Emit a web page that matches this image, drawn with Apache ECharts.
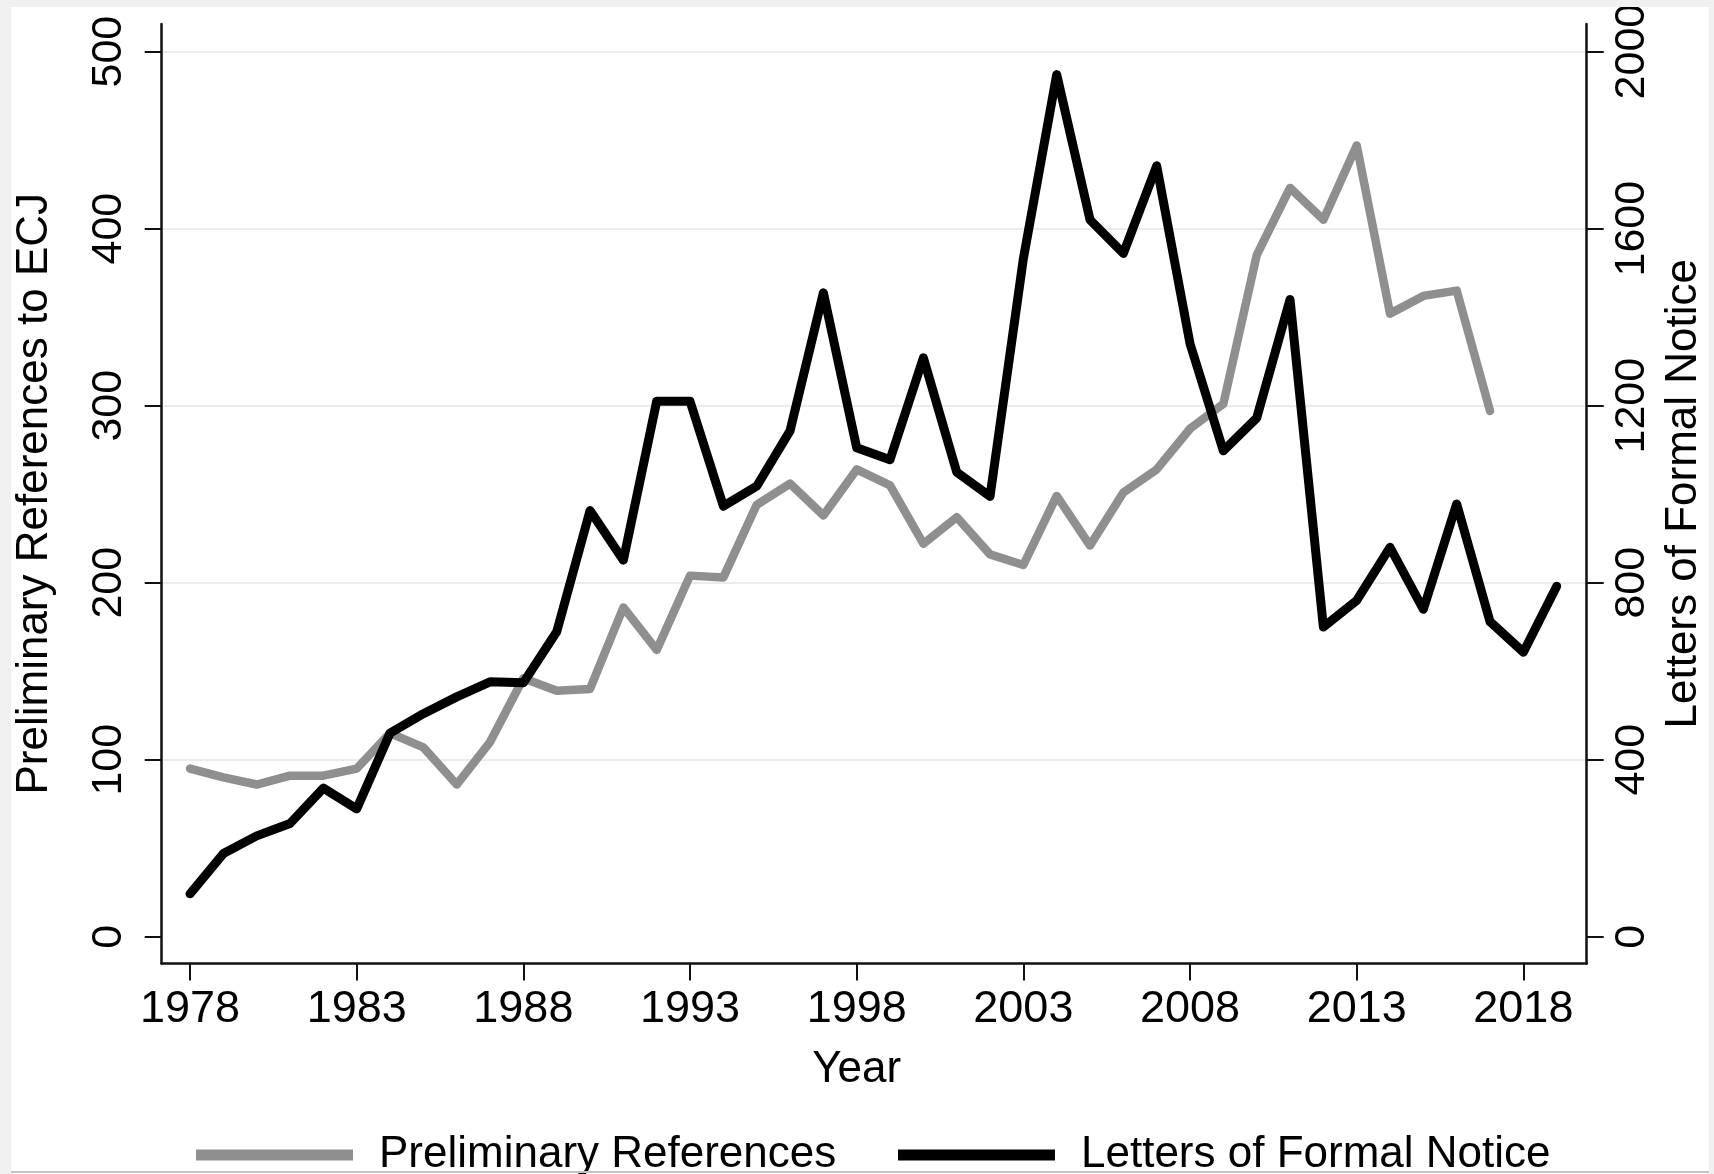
<!DOCTYPE html>
<html>
<head>
<meta charset="utf-8">
<script src="https://cdn.jsdelivr.net/npm/echarts@6/dist/echarts.min.js"></script>
<style>
  html, body { margin: 0; padding: 0; background: #ffffff; }
  #wrap { position: relative; width: 1714px; height: 1174px; background: #ffffff; overflow: hidden; }
  #chart { position: absolute; left: 0; top: 0; width: 1714px; height: 1174px; }
  .band { position: absolute; background: #f0f0f0; z-index: 10; pointer-events: none; }
</style>
</head>
<body>
<div id="wrap">
  <div id="chart"></div>
  <div class="band" style="left:0;top:0;width:1714px;height:7px;"></div>
  <div class="band" style="left:0;top:0;width:11px;height:1174px;"></div>
  <div class="band" style="left:1709px;top:0;width:5px;height:1174px;"></div>
  <div class="band" style="left:11px;top:1171px;width:1698px;height:2px;background:#c4c4c4;"></div>
</div>
<script>
// ---- data ----
const years = [1978,1979,1980,1981,1982,1983,1984,1985,1986,1987,
               1988,1989,1990,1991,1992,1993,1994,1995,1996,1997,
               1998,1999,2000,2001,2002,2003,2004,2005,2006,2007,
               2008,2009,2010,2011,2012,2013,2014,2015,2016,2017,
               2018,2019];

// Preliminary references to ECJ (left axis), 1978-2017
const preliminaryReferences = [95, 90, 86, 91, 91, 95, 115, 107, 86, 110,
                               146, 139, 140, 186, 162, 204, 203, 244, 256, 238,
                               264, 255, 222, 237, 216, 210, 249, 221, 251, 264,
                               287, 301, 385, 423, 405, 447, 352, 362, 365, 297];

// Letters of formal notice (right axis), 1978-2019
const lettersOfFormalNotice = [97, 188, 228, 256, 336, 289, 460, 504, 542, 576,
                               574, 689, 963, 851, 1210, 1210, 973, 1018, 1143, 1455,
                               1105, 1078, 1308, 1050, 995, 1532, 1948, 1620, 1544, 1742,
                               1340, 1098, 1172, 1440, 700, 760, 880, 740, 978, 712,
                               643, 792];

const xTicks = [1978, 1983, 1988, 1993, 1998, 2003, 2008, 2013, 2018];
const leftTicks = [0, 100, 200, 300, 400, 500];
const rightTicks = [0, 400, 800, 1200, 1600, 2000];

const seriesNames = ['Preliminary References', 'Letters of Formal Notice'];
const axisTitles = { x: 'Year', left: 'Preliminary References to ECJ', right: 'Letters of Formal Notice' };

// ---- build ----
const FONT = "'Liberation Sans', Arial, Helvetica, sans-serif";
const GRAY = '#8f8f8f';
const BLACK = '#000000';
const AXIS = '#111111';
const GRID = '#e6eef0';

const prData = preliminaryReferences.map((v, i) => [years[i], v]);
const lfnData = lettersOfFormalNotice.map((v, i) => [years[i], v]);

const plain = v => String(v);

const chart = echarts.init(document.getElementById('chart'), null, { renderer: 'canvas' });

chart.setOption({
  animation: false,
  backgroundColor: '#ffffff',
  textStyle: { fontFamily: FONT },
  grid: { left: 161.7, right: 127.3, top: 24, bottom: 210.5, containLabel: false },
  xAxis: {
    type: 'value',
    min: 1977.15,
    max: 2019.9,
    axisLine: { show: true, onZero: false, lineStyle: { color: AXIS, width: 2.5 } },
    axisTick: { show: true, inside: false, length: 17, customValues: xTicks, lineStyle: { color: AXIS, width: 2 } },
    axisLabel: { customValues: xTicks, formatter: plain, fontSize: 45, margin: 24, color: '#000', fontFamily: FONT },
    splitLine: { show: false },
    name: axisTitles.x,
    nameLocation: 'middle',
    nameGap: 84,
    nameTextStyle: { fontSize: 44, color: '#000', fontFamily: FONT, padding: [0, 35, 0, 0] }
  },
  yAxis: [
    {
      type: 'value',
      position: 'left',
      min: -15.1,
      max: 515.6,
      axisLine: { show: true, onZero: false, lineStyle: { color: AXIS, width: 2.5 } },
      axisTick: { show: true, inside: false, length: 17, customValues: leftTicks, lineStyle: { color: AXIS, width: 2 } },
      axisLabel: { customValues: leftTicks, formatter: plain, rotate: 90, fontSize: 43, margin: 31, color: '#000', fontFamily: FONT },
      splitLine: { show: true, lineStyle: { color: ['rgba(0,0,0,0)', GRID, GRID, GRID, GRID, GRID], width: 2 } },
      name: axisTitles.left,
      nameLocation: 'middle',
      nameRotate: 90,
      nameGap: 105,
      nameTextStyle: { fontSize: 44, color: '#000', fontFamily: FONT }
    },
    {
      type: 'value',
      position: 'right',
      min: -60.4,
      max: 2062.4,
      axisLine: { show: true, onZero: false, lineStyle: { color: AXIS, width: 2.5 } },
      axisTick: { show: true, inside: false, length: 17, customValues: rightTicks, lineStyle: { color: AXIS, width: 2 } },
      axisLabel: { customValues: rightTicks, formatter: plain, rotate: 90, fontSize: 43, margin: 24, color: '#000', fontFamily: FONT },
      splitLine: { show: false },
      name: axisTitles.right,
      nameLocation: 'middle',
      nameRotate: 90,
      nameGap: 73,
      nameTextStyle: { fontSize: 44, color: '#000', fontFamily: FONT }
    }
  ],
  legend: [
    {
      left: 196, top: 1133, padding: 0,
      data: [seriesNames[0]],
      icon: 'rect', itemWidth: 157, itemHeight: 11,
      selectedMode: false,
      textStyle: { fontSize: 44, color: '#000', fontFamily: FONT, padding: [0, 0, 0, 21] }
    },
    {
      left: 898, top: 1133, padding: 0,
      data: [seriesNames[1]],
      icon: 'rect', itemWidth: 157, itemHeight: 11,
      selectedMode: false,
      textStyle: { fontSize: 44, color: '#000', fontFamily: FONT, padding: [0, 0, 0, 21] }
    }
  ],
  series: [
    {
      name: seriesNames[0],
      type: 'line',
      yAxisIndex: 0,
      data: prData,
      showSymbol: false,
      symbol: 'none',
      color: GRAY,
      lineStyle: { color: GRAY, width: 8.5, join: 'round', cap: 'round' },
      z: 2
    },
    {
      name: seriesNames[1],
      type: 'line',
      yAxisIndex: 1,
      data: lfnData,
      showSymbol: false,
      symbol: 'none',
      color: BLACK,
      lineStyle: { color: BLACK, width: 9, join: 'round', cap: 'round' },
      z: 3
    }
  ]
});
</script>
</body>
</html>
